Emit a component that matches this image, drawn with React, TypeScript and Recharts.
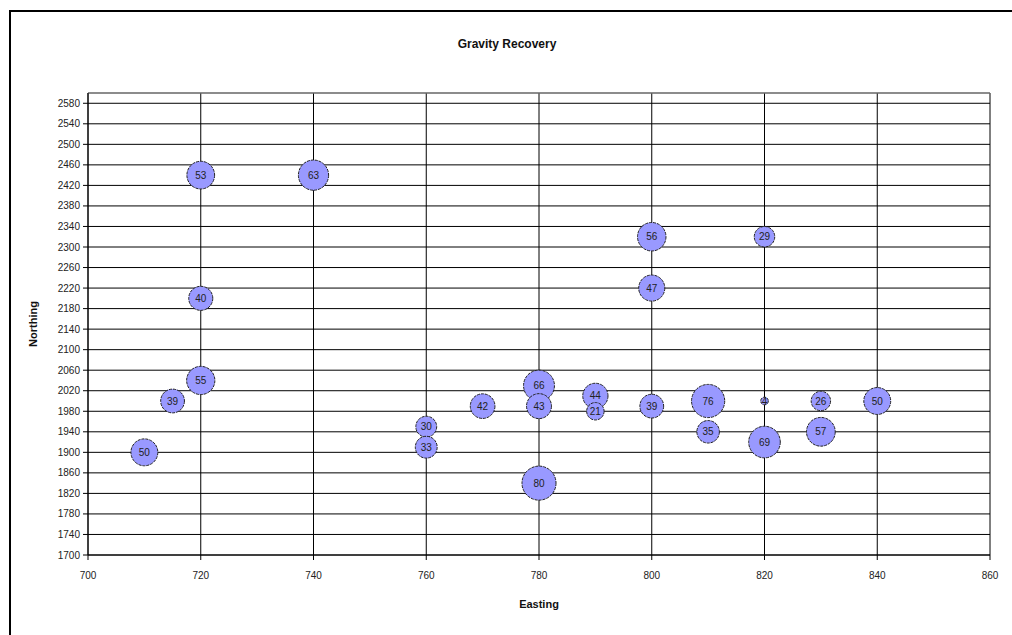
import React from "react";
import {
  ScatterChart,
  Scatter,
  XAxis,
  YAxis,
  ZAxis,
  CartesianGrid,
  LabelList,
  ReferenceLine,
} from "recharts";

const eastings = [710, 715, 720, 720, 720, 740, 760, 760, 770, 780, 780, 780, 790, 790, 800, 800, 800, 810, 810, 820, 820, 820, 830, 830, 840];
const northings = [1900, 2000, 2040, 2200, 2440, 2440, 1950, 1910, 1990, 2030, 1990, 1840, 2010, 1980, 2320, 2220, 1990, 2000, 1940, 2320, 2000, 1920, 2000, 1940, 2000];
const recoveries = [50, 39, 55, 40, 53, 63, 30, 33, 42, 66, 43, 80, 44, 21, 56, 47, 39, 76, 35, 29, 4, 69, 26, 57, 50];

const xTicks = [700, 720, 740, 760, 780, 800, 820, 840, 860];
const yTicks = [1700, 1740, 1780, 1820, 1860, 1900, 1940, 1980, 2020, 2060, 2100, 2140, 2180, 2220, 2260, 2300, 2340, 2380, 2420, 2460, 2500, 2540, 2580];

const data = eastings.map((x, i) => ({ x, y: northings[i], z: recoveries[i] }));

const FONT = "'Liberation Sans', Arial, sans-serif";

export default function App() {
  return (
    <div
      style={{
        position: "fixed",
        left: 0,
        top: 0,
        width: 1012,
        height: 635,
        background: "#fff",
        overflow: "hidden",
        fontFamily: FONT,
      }}
    >
      <div
        style={{
          position: "absolute",
          left: 9,
          top: 10,
          width: 1100,
          height: 700,
          borderLeft: "2px solid #000",
          borderTop: "2px solid #000",
        }}
      />
      <div
        style={{
          position: "absolute",
          left: 0,
          top: 37,
          width: 1014,
          textAlign: "center",
          fontSize: 12,
          fontWeight: "bold",
          color: "#111",
        }}
      >
        Gravity Recovery
      </div>
      <div style={{ position: "absolute", left: 0, top: 0 }}>
        <ScatterChart
          width={1012}
          height={635}
          margin={{ top: 93, right: 22, bottom: 24, left: 20 }}
        >
          <CartesianGrid stroke="#000" strokeWidth={1} fill="#fff" />
          <XAxis
            type="number"
            dataKey="x"
            domain={[700, 860]}
            ticks={xTicks}
            interval={0}
            allowDataOverflow
            height={56}
            tickSize={5}
            tickMargin={12}
            stroke="#000"
            tick={{ fontSize: 10, fill: "#222", fontFamily: FONT }}
            label={{
              value: "Easting",
              position: "insideBottom",
              offset: 3,
              style: { fontSize: 11, fontWeight: "bold", fill: "#111", fontFamily: FONT },
            }}
          />
          <YAxis
            type="number"
            dataKey="y"
            domain={[1700, 2600]}
            ticks={yTicks}
            interval={0}
            allowDataOverflow
            width={68}
            tickSize={5}
            tickMargin={3}
            stroke="#000"
            tick={{ fontSize: 10, fill: "#222", fontFamily: FONT }}
            label={{
              value: "Northing",
              angle: -90,
              position: "insideLeft",
              offset: 13,
              style: { fontSize: 11, fontWeight: "bold", fill: "#111", fontFamily: FONT, textAnchor: "middle" },
            }}
          />
          <ZAxis type="number" dataKey="z" domain={[0, 80]} range={[0, 910]} />
          <ReferenceLine y={2600} stroke="#999" strokeWidth={1} />
          <Scatter
            data={data}
            fill="#9999FF"
            stroke="#222"
            strokeWidth={1}
            strokeDasharray="3 1"
            isAnimationActive={false}
          >
            <LabelList
              dataKey="z"
              position="center"
              style={{ fontSize: 10, fill: "#222", fontFamily: FONT, stroke: "none" }}
            />
          </Scatter>
        </ScatterChart>
      </div>
    </div>
  );
}
